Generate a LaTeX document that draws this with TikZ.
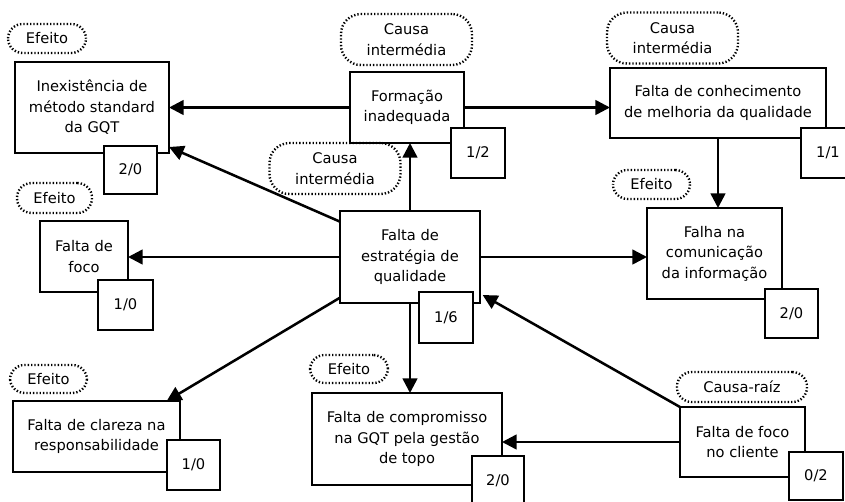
\documentclass[tikz,border=0pt]{standalone}
\usepackage{fontspec}
\setmainfont{DejaVu Sans}
\usetikzlibrary{arrows.meta}
\begin{document}
\begin{tikzpicture}[x=0.75pt,y=-0.75pt,
  every node/.style={font=\fontsize{11}{15.4}\selectfont, align=center,
    inner sep=0pt, outer sep=0pt},
  mainbox/.style 2 args={draw, line width=2pt, fill=white,
    minimum width={#1*0.75pt}, minimum height={#2*0.75pt}},
  countbox/.style 2 args={draw, line width=2pt, fill=white,
    minimum width={#1*0.75pt}, minimum height={#2*0.75pt}},
  tag/.style 2 args={draw, line width=1.8pt,
    dash pattern=on 1pt off 1.5pt, rounded corners=11pt,
    minimum width={#1*0.75pt}, minimum height={#2*0.75pt}},
  bigtag/.style 2 args={tag={#1}{#2}, rounded corners=15pt},
  link/.style={line width=1.9pt, -{Triangle[length=11pt,width=11pt]}}]

\useasboundingbox (0,0) rectangle (845,501);
\clip (0,0) rectangle (845,501);

% main boxes
\node[mainbox={154}{91}] (inex) at (92,107.5) {Inexistência de\\método standard\\da GQT};
\node[mainbox={114}{71}] (form) at (407,107.5) {Formação\\inadequada};
\node[mainbox={216}{70}] (conh) at (718,103) {Falta de conhecimento\\de melhoria da qualidade};
\node[mainbox={88}{71}]  (foco) at (84,256.5) {Falta de\\foco};
\node[mainbox={140}{92}] (estr) at (410,257) {Falta de\\estratégia de\\qualidade};
\node[mainbox={135}{91}] (falha) at (714.5,253.5) {Falha na\\comunicação\\da informação};
\node[mainbox={167}{71}] (clar) at (96.5,436.5) {Falta de clareza na\\responsabilidade};
\node[mainbox={190}{92}] (comp) at (407,439) {Falta de compromisso\\na GQT pela gestão\\de topo};
\node[mainbox={125}{70}] (cli) at (742.5,442) {Falta de foco\\no cliente};

% connectors
\draw[link] (form.west) -- (form.west -| inex.east);
\draw[link] (form.east) -- (form.east -| conh.west);
\draw[link] (conh.south) -- (conh.south |- falha.north);
\draw[link] (estr.north) -- (estr.north |- form.south);
\draw[link] (estr.south) -- (estr.south |- comp.north);
\draw[link] (estr.west) -- (estr.west -| foco.east);
\draw[link] (estr.east) -- (estr.east -| falha.west);
\draw[link] ([yshift=-8pt]estr.north west) -- ([yshift=4.5pt]inex.south east);
\draw[link] ([yshift=4pt]estr.south west) -- ([xshift=-10pt]clar.north east);
\draw[link] (cli.north west) -- ([xshift=2pt,yshift=6pt]estr.south east);
\draw[link] (cli.west) -- (cli.west -| comp.east);

% weight boxes
\node[countbox={53}{48}] (inexN) at (130.5,170) {2/0};
\node[countbox={54}{50}] (formN) at (478,153) {1/2};
\node[countbox={54}{50}] (conhN) at (828,153) {1/1};
\node[countbox={55}{50}] (focoN) at (125.5,305) {1/0};
\node[countbox={54}{51}] (estrN) at (446,317.5) {1/6};
\node[countbox={53}{49}] (falhaN) at (791.5,313.5) {2/0};
\node[countbox={53}{50}] (clarN) at (193.5,465) {1/0};
\node[countbox={52}{50}] (compN) at (498,481) {2/0};
\node[countbox={54}{48}] (cliN) at (816,476) {0/2};

% classification tags
\node[tag={78}{29}]     (inexT) at (47,38.5) {Efeito};
\node[bigtag={131}{51}] (formT) at (406.5,39.5) {Causa\\intermédia};
\node[bigtag={131}{51}] (conhT) at (672.5,38) {Causa\\intermédia};
\node[tag={75}{30}]     (focoT) at (54.5,198) {Efeito};
\node[bigtag={131}{51}] (estrT) at (335,168.5) {Causa\\intermédia};
\node[tag={77}{29}]     (falhaT) at (651.5,184.5) {Efeito};
\node[tag={77}{28}]     (clarT) at (48.5,379) {Efeito};
\node[tag={78}{28}]     (compT) at (349,369) {Efeito};
\node[tag={130}{30}]    (cliT) at (742,387) {Causa-raíz};
\end{tikzpicture}
\end{document}
